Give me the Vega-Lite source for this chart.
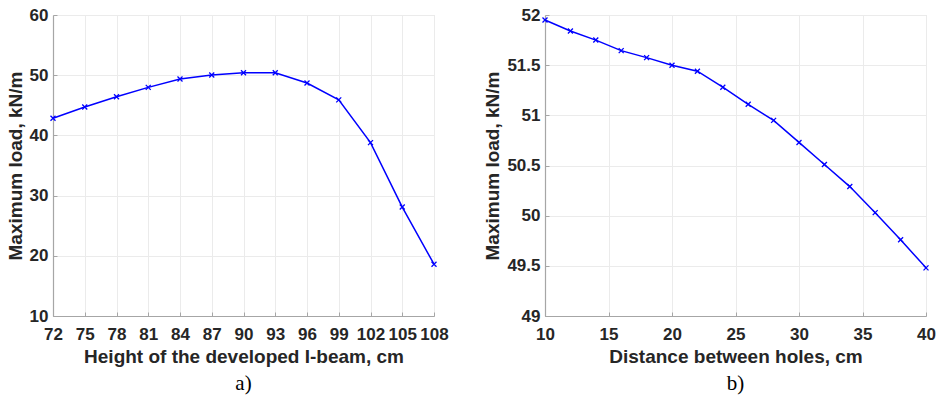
{
  "$schema": "https://vega.github.io/schema/vega-lite/v6.json",
  "background": "white",
  "padding": {"left": 5, "top": 5, "right": 5, "bottom": 1},
  "bounds": "flush",
  "spacing": 111,
  "datasets": {
    "a": [
      {"h": 72, "load": 42.84}, {"h": 75, "load": 44.72}, {"h": 78, "load": 46.43},
      {"h": 81, "load": 47.98}, {"h": 84, "load": 49.37}, {"h": 87, "load": 50.03},
      {"h": 90, "load": 50.42}, {"h": 93, "load": 50.42}, {"h": 96, "load": 48.7},
      {"h": 99, "load": 45.9}, {"h": 102, "load": 38.8}, {"h": 105, "load": 28.1},
      {"h": 108, "load": 18.6}
    ],
    "b": [
      {"d": 10, "load": 51.95}, {"d": 12, "load": 51.84}, {"d": 14, "load": 51.75},
      {"d": 16, "load": 51.645}, {"d": 18, "load": 51.575}, {"d": 20, "load": 51.5},
      {"d": 22, "load": 51.44}, {"d": 24, "load": 51.28}, {"d": 26, "load": 51.11},
      {"d": 28, "load": 50.95}, {"d": 30, "load": 50.73}, {"d": 32, "load": 50.51},
      {"d": 34, "load": 50.29}, {"d": 36, "load": 50.03}, {"d": 38, "load": 49.76},
      {"d": 40, "load": 49.48}
    ]
  },
  "hconcat": [
    {
      "width": 381,
      "height": 301,
      "title": {"text": "a)", "orient": "bottom", "font": "Liberation Serif", "fontSize": 21, "fontWeight": "normal", "color": "black", "anchor": "middle", "offset": 7},
      "data": {"name": "a"},
      "encoding": {
        "x": {"field": "h", "type": "quantitative", "title": "Height of the developed I-beam, cm",
              "scale": {"domain": [72, 108], "nice": false, "zero": false},
              "axis": {"values": [72, 75, 78, 81, 84, 87, 90, 93, 96, 99, 102, 105, 108], "labelOverlap": false, "labelFlush": false}},
        "y": {"field": "load", "type": "quantitative", "title": "Maximum load, kN/m",
              "scale": {"domain": [10, 60], "nice": false, "zero": false},
              "axis": {"values": [10, 20, 30, 40, 50, 60]}}
      },
      "layer": [
        {"mark": {"type": "line", "color": "#0000ff", "strokeWidth": 1.5}},
        {"mark": {"type": "point", "shape": "M-1,-1L1,1M-1,1L1,-1", "filled": false, "color": "#0000ff", "strokeWidth": 1.3, "size": 25, "opacity": 1}}
      ]
    },
    {
      "width": 381,
      "height": 301,
      "title": {"text": "b)", "orient": "bottom", "font": "Liberation Serif", "fontSize": 21, "fontWeight": "normal", "color": "black", "anchor": "middle", "offset": 7},
      "data": {"name": "b"},
      "encoding": {
        "x": {"field": "d", "type": "quantitative", "title": "Distance between holes, cm",
              "scale": {"domain": [10, 40], "nice": false, "zero": false},
              "axis": {"values": [10, 15, 20, 25, 30, 35, 40], "labelFlush": false}},
        "y": {"field": "load", "type": "quantitative", "title": "Maximum load, kN/m",
              "scale": {"domain": [49, 52], "nice": false, "zero": false},
              "axis": {"values": [49, 49.5, 50, 50.5, 51, 51.5, 52], "format": "~g"}}
      },
      "layer": [
        {"mark": {"type": "line", "color": "#0000ff", "strokeWidth": 1.5}},
        {"mark": {"type": "point", "shape": "M-1,-1L1,1M-1,1L1,-1", "filled": false, "color": "#0000ff", "strokeWidth": 1.3, "size": 25, "opacity": 1}}
      ]
    }
  ],
  "config": {
    "view": {"stroke": "#e3e3e3", "strokeWidth": 1},
    "axis": {
      "labelFont": "Liberation Sans", "labelFontWeight": "bold", "labelFontSize": 17, "labelColor": "#262626",
      "titleFont": "Liberation Sans", "titleFontWeight": "bold", "titleFontSize": 19, "titleColor": "#262626",
      "gridColor": "#ebebeb", "gridWidth": 1,
      "domainColor": "#a6a6a6", "domainWidth": 1.2,
      "tickColor": "#a6a6a6", "tickSize": -4
    },
    "axisX": {"titlePadding": 5, "labelPadding": 14},
    "axisY": {"titlePadding": 4, "labelPadding": 9}
  }
}
